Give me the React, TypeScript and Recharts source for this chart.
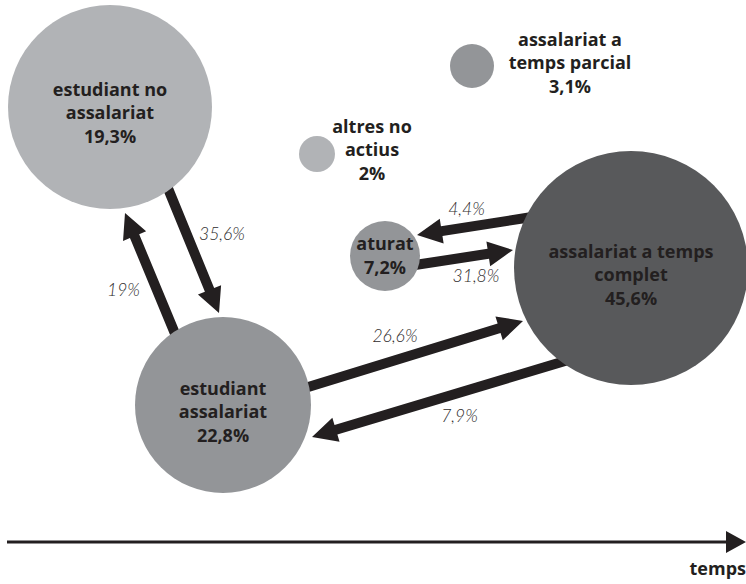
import React from "react";
import { ScatterChart, Scatter, XAxis, YAxis, ReferenceLine } from "recharts";

// situations (bubbles): position on the time / level plane, share of people
const stateNames = [
  ["estudiant no", "assalariat"],
  ["altres no", "actius"],
  ["assalariat a", "temps parcial"],
  ["aturat"],
  ["assalariat a temps", "complet"],
  ["estudiant", "assalariat"],
];
const stateShare = ["19,3%", "2%", "3,1%", "7,2%", "45,6%", "22,8%"];
const stateX = [110, 317, 472, 385, 631, 223];
const stateY = [107, 154, 66, 256, 268, 405];
const stateSize = [102, 18, 22, 35, 117, 88];

// transitions between situations
const flowFrom = [
  [167, 186],
  [176, 336],
  [305, 388],
  [575, 358],
  [532, 217],
  [415, 265],
];
const flowTo = [
  [219, 313],
  [125, 213],
  [523, 321],
  [312, 437],
  [417, 235],
  [513, 250],
];
const flowValue = ["35,6%", "19%", "26,6%", "7,9%", "4,4%", "31,8%"];

const WIDTH = 746;
const HEIGHT = 584;
const INK = "#231f20";
const BOLD_FONT = "'Open Sans', Lato, sans-serif";

const fills = ["#b1b3b6", "#b1b3b6", "#939598", "#939598", "#58595b", "#939598"];
// label anchor relative to the bubble centre
const labelPlace = [
  { dx: 0, dy: 5 },
  { dx: 55, dy: -5 },
  { dx: 98, dy: -4 },
  { dx: 0, dy: -1 },
  { dx: 0, dy: 6 },
  { dx: 0, dy: 6 },
];
const flowLabelOffset = [
  [29, -16],
  [-27, 15],
  [-19, -19],
  [16, 18],
  [-8, -18],
  [12, 18],
];

const bubbles = stateNames.map((lines, i) => ({
  x: stateX[i],
  y: stateY[i],
  r: stateSize[i],
  lines,
  share: stateShare[i],
  idx: i,
}));

function arrowPoints(x1: number, y1: number, x2: number, y2: number, shaft: number, headLen: number, headW: number) {
  const dx = x2 - x1;
  const dy = y2 - y1;
  const len = Math.sqrt(dx * dx + dy * dy);
  const ux = dx / len;
  const uy = dy / len;
  const px = -uy;
  const py = ux;
  const bx = x2 - ux * headLen;
  const by = y2 - uy * headLen;
  const s = shaft / 2;
  const h = headW / 2;
  const pts = [
    [x1 + px * s, y1 + py * s],
    [bx + px * s, by + py * s],
    [bx + px * h, by + py * h],
    [x2, y2],
    [bx - px * h, by - py * h],
    [bx - px * s, by - py * s],
    [x1 - px * s, y1 - py * s],
  ];
  return pts.map((p) => p.join(",")).join(" ");
}

const FlowArrow = (i: number) => (props: any) => {
  const { x1, y1, x2, y2 } = props;
  if (x1 == null) return <g />;
  const mx = (x1 + x2) / 2 + flowLabelOffset[i][0];
  const my = (y1 + y2) / 2 + flowLabelOffset[i][1];
  return (
    <g>
      <polygon points={arrowPoints(x1, y1, x2, y2, 10, 25, 25)} fill={INK} />
      <text
        x={mx}
        y={my}
        textAnchor="middle"
        dominantBaseline="central"
        fontFamily="Lato, 'Open Sans', sans-serif"
        fontStyle="italic"
        fontWeight={300}
        fontSize={17.5}
        fill="#2e2b2c"
      >
        {flowValue[i]}
      </text>
    </g>
  );
};

const TimeAxis = (props: any) => {
  const { x1, y1, x2, y2 } = props;
  if (x1 == null) return <g />;
  return (
    <g>
      <polygon points={arrowPoints(x1, y1, x2, y2, 3, 20, 22)} fill={INK} />
      <text
        x={x2}
        y={y2 + 33}
        textAnchor="end"
        fontFamily={BOLD_FONT}
        fontWeight={700}
        fontSize={18}
        fill={INK}
      >
        temps
      </text>
    </g>
  );
};

const Bubble = (props: any) => {
  const { cx, cy, payload } = props;
  const i = payload.idx;
  const place = labelPlace[i];
  const lines = [...payload.lines, payload.share];
  const lineH = 23.5;
  const top = cy + place.dy - ((lines.length - 1) * lineH) / 2;
  return (
    <g>
      <circle cx={cx} cy={cy} r={payload.r} fill={fills[i]} />
      <text
        textAnchor="middle"
        fontFamily={BOLD_FONT}
        fontWeight={700}
        fontSize={18}
        fill={INK}
      >
        {lines.map((l: string, k: number) => (
          <tspan key={k} x={cx + place.dx} y={top + k * lineH} dominantBaseline="central">
            {l}
          </tspan>
        ))}
      </text>
    </g>
  );
};

export default function App() {
  return (
    <div style={{ width: WIDTH, height: HEIGHT }}>
      <style>{`body{margin:0}`}</style>
      <ScatterChart width={WIDTH} height={HEIGHT} margin={{ top: 0, right: 0, bottom: 0, left: 0 }}>
        <XAxis type="number" dataKey="x" domain={[0, WIDTH]} hide />
        <YAxis type="number" dataKey="y" domain={[0, HEIGHT]} reversed hide />
        {flowValue.map((_, i) => (
          <ReferenceLine
            key={i}
            segment={[
              { x: flowFrom[i][0], y: flowFrom[i][1] },
              { x: flowTo[i][0], y: flowTo[i][1] },
            ]}
            ifOverflow="visible"
            shape={FlowArrow(i)}
          />
        ))}
        <ReferenceLine
          segment={[
            { x: 7, y: 542 },
            { x: 746, y: 542 },
          ]}
          ifOverflow="visible"
          shape={TimeAxis}
        />
        <Scatter data={bubbles} shape={Bubble} isAnimationActive={false} />
      </ScatterChart>
    </div>
  );
}
